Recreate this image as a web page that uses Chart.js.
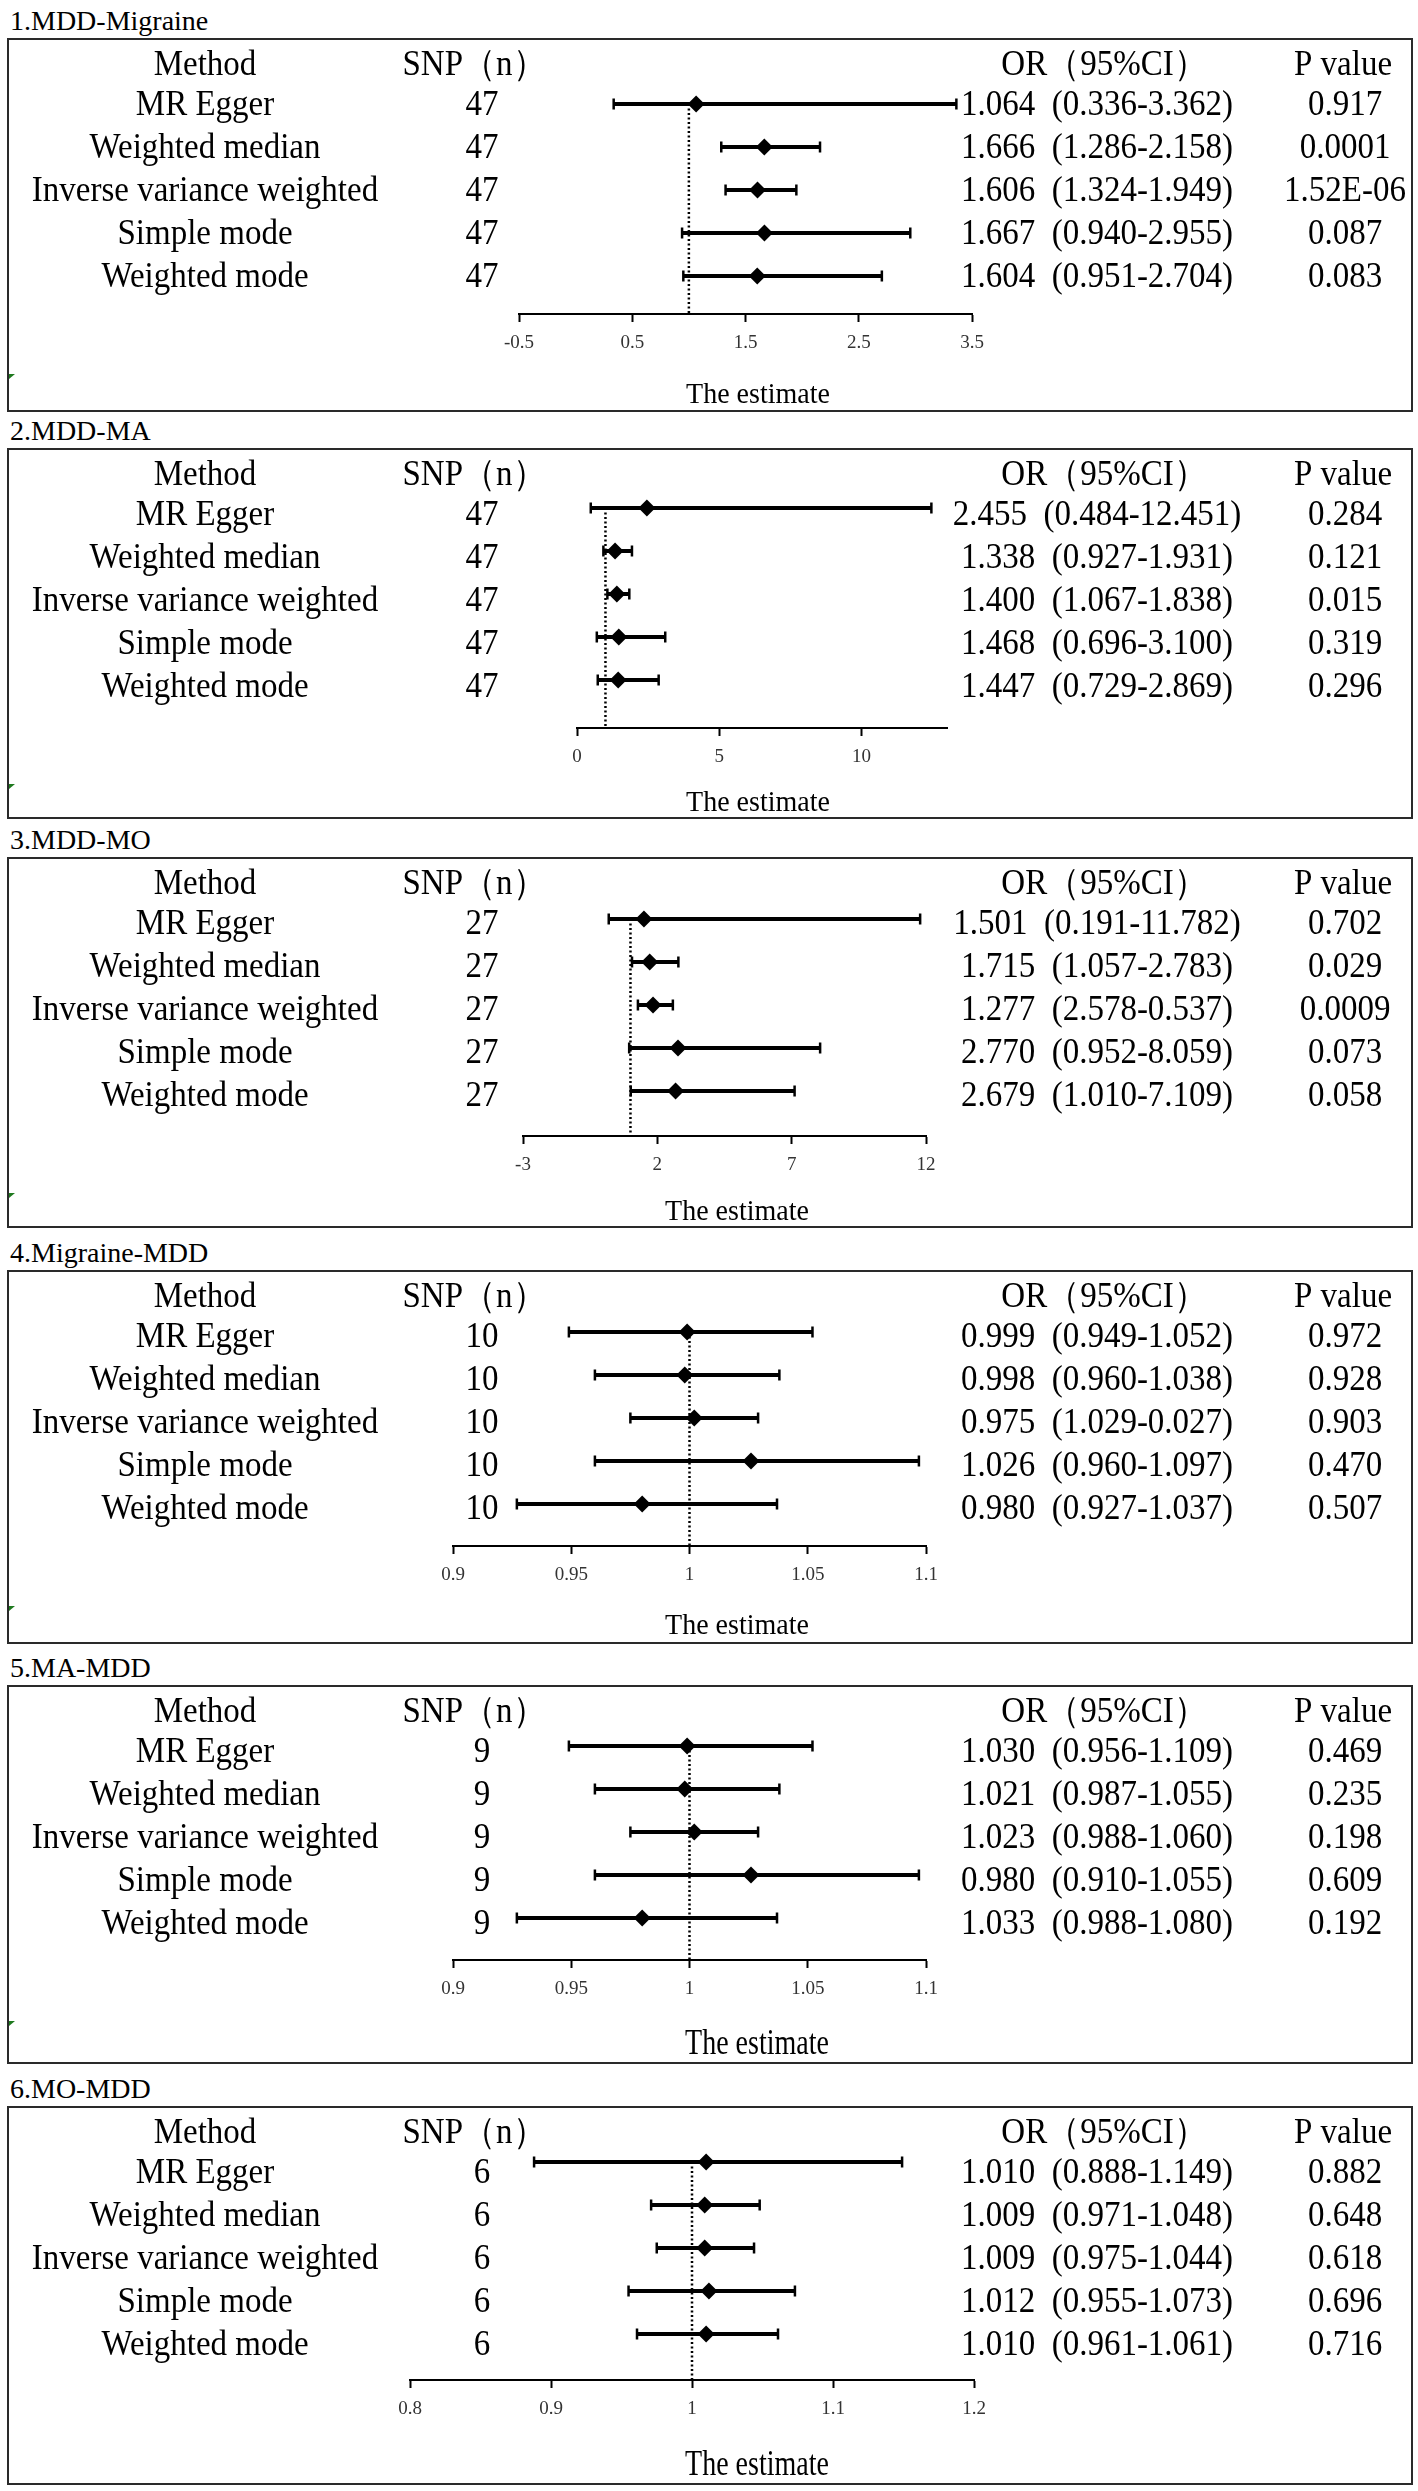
<!DOCTYPE html>
<html>
<head>
<meta charset="utf-8">
<script src="https://cdn.jsdelivr.net/npm/chart.js@4.4.1/dist/chart.umd.min.js"></script>
<style>
  html, body { margin: 0; padding: 0; background: #fff; }
  #page { position: relative; width: 1418px; height: 2491px; overflow: hidden; }
  .title { position: absolute; left: 10px; font: 28px "Liberation Serif", serif; line-height: 34px; color: #000; white-space: nowrap; }
  .box { position: absolute; left: 7px; width: 1402px; border: 2px solid #2a2a2a; }
  .flag { position: absolute; left: 9px; width: 0; height: 0; border-top: 5px solid #1f7a1f; border-right: 6px solid transparent; }
  canvas { position: absolute; left: 0; }
</style>
</head>
<body>
<div id="page"></div>
<script>
// row labels, shared by all six panels
const methods = ['MR Egger', 'Weighted median', 'Inverse variance weighted', 'Simple mode', 'Weighted mode'];

// 1.MDD-Migraine
const snp1 = [47, 47, 47, 47, 47];
const est1 = [1.064, 1.666, 1.606, 1.667, 1.604];
const lo1 = [0.336, 1.286, 1.324, 0.940, 0.951];
const hi1 = [3.362, 2.158, 1.949, 2.955, 2.704];
const orTxt1 = ['1.064  (0.336-3.362)', '1.666  (1.286-2.158)', '1.606  (1.324-1.949)', '1.667  (0.940-2.955)', '1.604  (0.951-2.704)'];
const pTxt1 = ['0.917', '0.0001', '1.52E-06', '0.087', '0.083'];
const ticks1 = [-0.5, 0.5, 1.5, 2.5, 3.5];

// 2.MDD-MA
const snp2 = [47, 47, 47, 47, 47];
const est2 = [2.455, 1.338, 1.400, 1.468, 1.447];
const lo2 = [0.484, 0.927, 1.067, 0.696, 0.729];
const hi2 = [12.451, 1.931, 1.838, 3.100, 2.869];
const orTxt2 = ['2.455  (0.484-12.451)', '1.338  (0.927-1.931)', '1.400  (1.067-1.838)', '1.468  (0.696-3.100)', '1.447  (0.729-2.869)'];
const pTxt2 = ['0.284', '0.121', '0.015', '0.319', '0.296'];
const ticks2 = [0, 5, 10];

// 3.MDD-MO (IVW marks, the printed row is garbled)
const snp3 = [27, 27, 27, 27, 27];
const est3 = [1.501, 1.715, 1.84, 2.770, 2.679];
const lo3 = [0.191, 1.057, 1.277, 0.952, 1.010];
const hi3 = [11.782, 2.783, 2.578, 8.059, 7.109];
const orTxt3 = ['1.501  (0.191-11.782)', '1.715  (1.057-2.783)', '1.277  (2.578-0.537)', '2.770  (0.952-8.059)', '2.679  (1.010-7.109)'];
const pTxt3 = ['0.702', '0.029', '0.0009', '0.073', '0.058'];
const ticks3 = [-3, 2, 7, 12];

// 4.Migraine-MDD
const snp4 = [10, 10, 10, 10, 10];
const est4 = [0.999, 0.998, 1.002, 1.026, 0.980];
const lo4 = [0.949, 0.960, 0.975, 0.960, 0.927];
const hi4 = [1.052, 1.038, 1.029, 1.097, 1.037];
const orTxt4 = ['0.999  (0.949-1.052)', '0.998  (0.960-1.038)', '0.975  (1.029-0.027)', '1.026  (0.960-1.097)', '0.980  (0.927-1.037)'];
const pTxt4 = ['0.972', '0.928', '0.903', '0.470', '0.507'];
const ticks4 = [0.9, 0.95, 1, 1.05, 1.1];

// 5.MA-MDD (the plotted marks in the picture are the same as panel 4)
const snp5 = [9, 9, 9, 9, 9];
const est5 = [0.999, 0.998, 1.002, 1.026, 0.980];
const lo5 = [0.949, 0.960, 0.975, 0.960, 0.927];
const hi5 = [1.052, 1.038, 1.029, 1.097, 1.037];
const orTxt5 = ['1.030  (0.956-1.109)', '1.021  (0.987-1.055)', '1.023  (0.988-1.060)', '0.980  (0.910-1.055)', '1.033  (0.988-1.080)'];
const pTxt5 = ['0.469', '0.235', '0.198', '0.609', '0.192'];
const ticks5 = [0.9, 0.95, 1, 1.05, 1.1];

// 6.MO-MDD
const snp6 = [6, 6, 6, 6, 6];
const est6 = [1.010, 1.009, 1.009, 1.012, 1.010];
const lo6 = [0.888, 0.971, 0.975, 0.955, 0.961];
const hi6 = [1.149, 1.048, 1.044, 1.073, 1.061];
const orTxt6 = ['1.010  (0.888-1.149)', '1.009  (0.971-1.048)', '1.009  (0.975-1.044)', '1.012  (0.955-1.073)', '1.010  (0.961-1.061)'];
const pTxt6 = ['0.882', '0.648', '0.618', '0.696', '0.716'];
const ticks6 = [0.8, 0.9, 1, 1.1, 1.2];

const FONT = '"Liberation Serif", "Times New Roman", serif';
const HEAD_Y = 23, ROW0_Y = 66, ROW_H = 43;

// layout of each panel (page pixels)
const panels = [
  { title: '1.MDD-Migraine', top: 39, bottom: 411, axis: 275, estY: 356, estStretch: 1.05, estX: 758, xMin: -0.5, xMax: 3.5, xL: 519, xR: 972, shift: -1, flag: true,
    snp: snp1, est: est1, lo: lo1, hi: hi1, orTxt: orTxt1, pTxt: pTxt1, ticks: ticks1 },
  { title: '2.MDD-MA', top: 449, bottom: 818, axis: 279, estY: 354, estStretch: 1.05, estX: 758, xMin: 0, xMax: 13, xL: 577, xR: 947, shift: -7, flag: true,
    snp: snp2, est: est2, lo: lo2, hi: hi2, orTxt: orTxt2, pTxt: pTxt2, ticks: ticks2 },
  { title: '3.MDD-MO', top: 858, bottom: 1227, axis: 278, estY: 354, estStretch: 1.05, estX: 737, xMin: -3, xMax: 12, xL: 523, xR: 926, shift: -5, flag: true,
    snp: snp3, est: est3, lo: lo3, hi: hi3, orTxt: orTxt3, pTxt: pTxt3, ticks: ticks3 },
  { title: '4.Migraine-MDD', top: 1271, bottom: 1643, axis: 275, estY: 355, estStretch: 1.05, estX: 737, xMin: 0.9, xMax: 1.1, xL: 453, xR: 926, shift: -5, flag: true,
    snp: snp4, est: est4, lo: lo4, hi: hi4, orTxt: orTxt4, pTxt: pTxt4, ticks: ticks4 },
  { title: '5.MA-MDD', top: 1686, bottom: 2063, axis: 274, estY: 358, estStretch: 1.3, estX: 757, xMin: 0.9, xMax: 1.1, xL: 453, xR: 926, shift: -6, flag: true,
    snp: snp5, est: est5, lo: lo5, hi: hi5, orTxt: orTxt5, pTxt: pTxt5, ticks: ticks5 },
  { title: '6.MO-MDD', top: 2107, bottom: 2484, axis: 273, estY: 358, estStretch: 1.3, estX: 757, xMin: 0.8, xMax: 1.2, xL: 410, xR: 974, shift: -11, flag: false,
    snp: snp6, est: est6, lo: lo6, hi: hi6, orTxt: orTxt6, pTxt: pTxt6, ticks: ticks6 }
];

// text in the figure is a little taller than it is wide
function tallText(ctx, txt, x, y, k) {
  ctx.save();
  ctx.translate(x, y);
  ctx.scale(1, k);
  ctx.fillText(txt, 0, 0);
  ctx.restore();
}

// draws the table columns, lined up with the rows of the y scale, and the axis caption
const tablePlugin = {
  id: 'tableText',
  afterDraw(chart, args, opts) {
    const ctx = chart.ctx;
    const y = chart.scales.y;
    ctx.save();
    ctx.fillStyle = '#000';
    ctx.font = '33px ' + FONT;
    ctx.textAlign = 'center';
    ctx.textBaseline = 'middle';
    const hy = y.getPixelForValue(-0.93);
    tallText(ctx, 'Method', 205, hy, 1.1);
    tallText(ctx, 'SNP（n）', 474, hy, 1.1);
    tallText(ctx, 'OR（95%CI）', 1104, hy, 1.1);
    tallText(ctx, 'P value', 1343, hy, 1.1);
    methods.forEach((m, i) => {
      const py = y.getPixelForValue(i);
      tallText(ctx, m, 205, py, 1.1);
      tallText(ctx, String(opts.snp[i]), 482, py, 1.1);
      tallText(ctx, opts.orTxt[i], 1097, py, 1.1);
      tallText(ctx, opts.pTxt[i], 1345, py, 1.1);
    });
    // x axis caption
    ctx.font = '28px ' + FONT;
    tallText(ctx, 'The estimate', opts.estX, opts.estY, opts.estStretch);
    ctx.restore();
  }
};

const page = document.getElementById('page');

panels.forEach((p) => {
  const H = p.bottom - p.top;

  const t = document.createElement('div');
  t.className = 'title';
  t.style.top = (p.top - 35) + 'px';
  t.textContent = p.title;
  page.appendChild(t);

  const box = document.createElement('div');
  box.className = 'box';
  box.style.top = (p.top - 1) + 'px';
  box.style.height = (H - 2) + 'px';
  page.appendChild(box);

  if (p.flag) {
    const f = document.createElement('div');
    f.className = 'flag';
    f.style.top = (p.top + 335) + 'px';
    page.appendChild(f);
  }

  const cv = document.createElement('canvas');
  cv.width = 1418;
  cv.height = H;
  cv.style.top = p.top + 'px';
  cv.style.width = '1418px';
  cv.style.height = H + 'px';
  page.appendChild(cv);

  const s = p.shift / ROW_H;
  const yMax = (p.axis - ROW0_Y) / ROW_H;

  const ciSets = methods.map((m, i) => ({
    type: 'line',
    showLine: true,
    data: [{ x: p.lo[i], y: i + s }, { x: p.hi[i], y: i + s }],
    borderColor: '#000',
    borderWidth: 4,
    pointStyle: 'line',
    rotation: 90,
    pointRadius: 5.5,
    pointBorderWidth: 2.5,
    pointBorderColor: '#000',
    clip: false,
    order: 2
  }));

  new Chart(cv, {
    type: 'scatter',
    data: {
      datasets: [
        {
          // null line at OR = 1
          type: 'line',
          showLine: true,
          data: [{ x: 1, y: s }, { x: 1, y: yMax }],
          borderColor: '#000',
          borderWidth: 2.5,
          borderDash: [2, 2.5],
          pointRadius: 0,
          order: 3
        },
        ...ciSets,
        {
          data: p.est.map((v, i) => ({ x: v, y: i + s })),
          pointStyle: 'rectRot',
          pointRadius: 8.5,
          backgroundColor: '#000',
          borderColor: '#000',
          borderWidth: 0,
          clip: false,
          order: 1
        }
      ]
    },
    options: {
      responsive: false,
      animation: false,
      events: [],
      layout: { padding: { left: p.xL, right: 1418 - p.xR, top: HEAD_Y, bottom: 0 } },
      plugins: {
        legend: { display: false },
        tooltip: { enabled: false },
        tableText: { snp: p.snp, orTxt: p.orTxt, pTxt: p.pTxt, estX: p.estX, estY: p.estY, estStretch: p.estStretch }
      },
      scales: {
        x: {
          type: 'linear',
          position: 'bottom',
          min: p.xMin,
          max: p.xMax,
          afterBuildTicks: (sc) => { sc.ticks = p.ticks.map(v => ({ value: v })); },
          afterFit: (sc) => { sc.height = H - p.axis; },
          border: { display: true, color: '#000', width: 2 },
          grid: { display: true, drawOnChartArea: false, drawTicks: true, tickLength: 8, tickWidth: 2, color: '#000', tickColor: '#000' },
          ticks: { padding: 10, color: '#333', font: { family: FONT, size: 19 }, maxRotation: 0, callback: (v) => String(v) }
        },
        y: { type: 'linear', display: false, reverse: true, min: -1, max: yMax }
      }
    },
    plugins: [tablePlugin]
  });
});
</script>
</body>
</html>
